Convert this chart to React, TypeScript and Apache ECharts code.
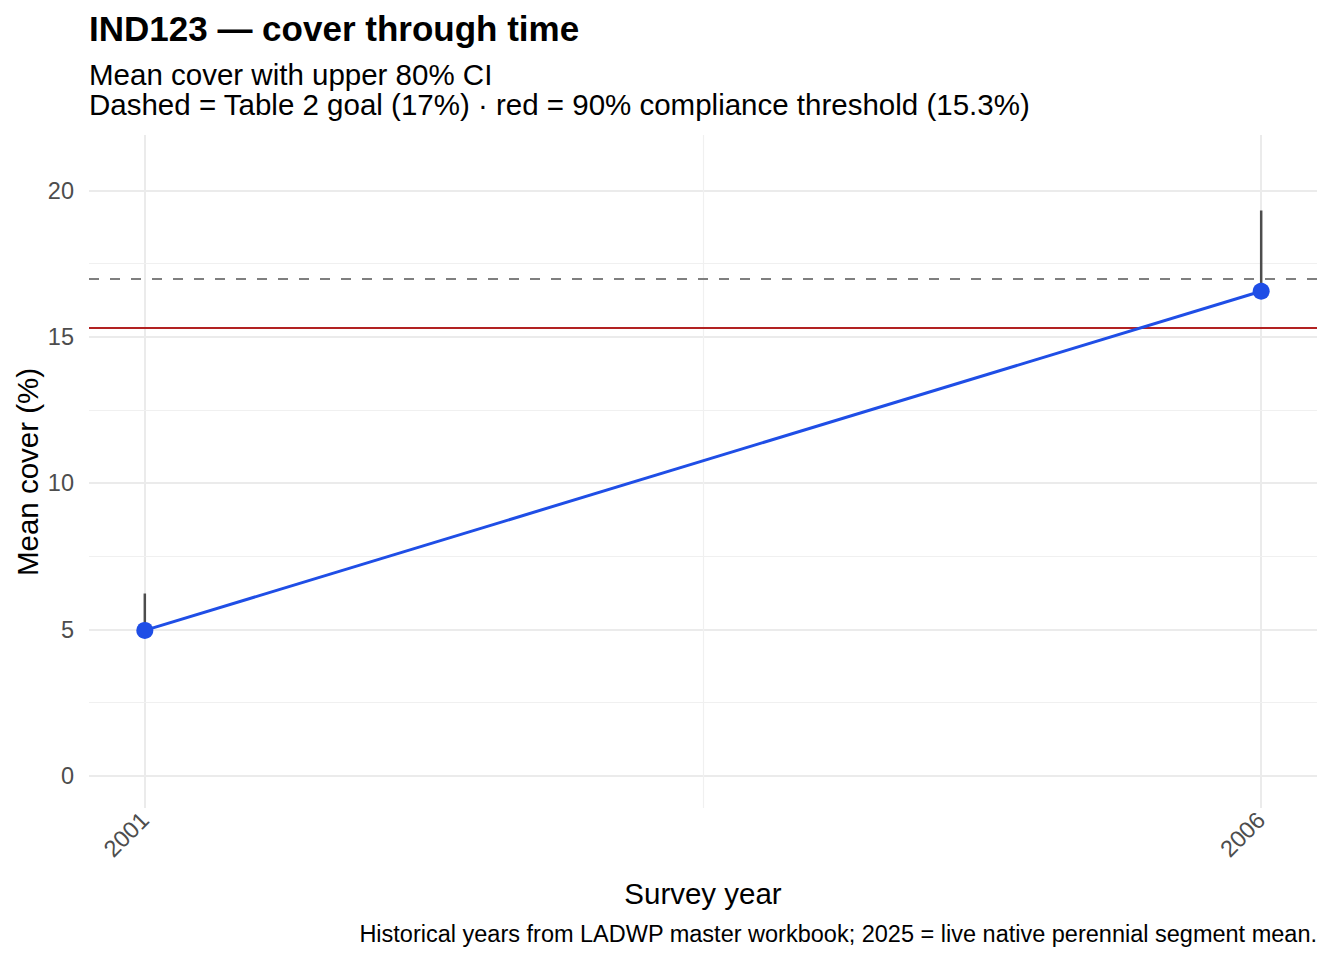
import React, { useEffect, useRef } from "react";
import * as echarts from "echarts";

const years = [2001, 2006];
const meanCover = [4.97, 16.56];
const upperCI = [6.23, 19.32];
const goalValue = 17;
const thresholdValue = 15.3;
const yTickValues = [0, 5, 10, 15, 20];
const yMinorValues = [2.5, 7.5, 12.5, 17.5];
const xTickValues = [2001, 2006];
const xMinorValues = [2003.5];

const FONT = "Liberation Sans, Arial, Helvetica, sans-serif";

export default function App() {
  const ref = useRef<HTMLDivElement>(null);
  useEffect(() => {
    document.body.style.margin = "0";
    if (!ref.current) return;
    const chart = echarts.init(ref.current, undefined, { renderer: "svg" });
    const pts = years.map((y, i) => [y, meanCover[i]]);
    const minorLine = { color: "#F0F0F0", width: 1.2, type: "solid" };
    const option: any = {
      animation: false,
      backgroundColor: "#FFFFFF",
      textStyle: { fontFamily: FONT },
      title: [
        {
          text: "IND123 — cover through time",
          left: 89,
          top: 10,
          padding: 0,
          textStyle: { fontSize: 35, fontWeight: "bold", color: "#000000", fontFamily: FONT, lineHeight: 36 },
        },
        {
          text: "Mean cover with upper 80% CI\nDashed = Table 2 goal (17%) · red = 90% compliance threshold (15.3%)",
          left: 89,
          top: 59,
          padding: 0,
          textStyle: { fontSize: 29.5, fontWeight: "normal", color: "#000000", lineHeight: 30.5, fontFamily: FONT },
        },
      ],
      grid: { left: 89, right: 27, top: 135, bottom: 152, containLabel: false },
      xAxis: {
        type: "value",
        min: 2000.75,
        max: 2006.25,
        axisLine: { show: false },
        axisTick: { show: false, customValues: xTickValues },
        axisLabel: {
          customValues: xTickValues,
          rotate: 45,
          margin: 8,
          fontSize: 23.5,
          color: "#4D4D4D",
          fontFamily: FONT,
          formatter: (v: number) => String(Math.round(v)),
        },
        splitLine: { show: true, lineStyle: { color: "#EBEBEB", width: 2 } },
      },
      yAxis: {
        type: "value",
        min: -1.1,
        max: 21.9,
        axisLine: { show: false },
        axisTick: { show: false, customValues: yTickValues },
        axisLabel: {
          customValues: yTickValues,
          margin: 15,
          fontSize: 23.5,
          color: "#4D4D4D",
          fontFamily: FONT,
          formatter: (v: number) => String(Math.round(v)),
        },
        splitLine: { show: true, lineStyle: { color: "#EBEBEB", width: 2 } },
      },
      series: [
        {
          type: "line",
          z: 0,
          data: pts,
          showSymbol: false,
          lineStyle: { opacity: 0 },
          silent: true,
          markLine: {
            z: 0,
            silent: true,
            symbol: ["none", "none"],
            label: { show: false },
            lineStyle: minorLine,
            data: [
              ...yMinorValues.map((v) => ({ yAxis: v, lineStyle: minorLine })),
              ...xMinorValues.map((v) => ({ xAxis: v, lineStyle: minorLine })),
            ],
          },
        },
        {
          type: "line",
          z: 1,
          data: pts,
          showSymbol: false,
          lineStyle: { opacity: 0 },
          silent: true,
          markLine: {
            z: 1,
            silent: true,
            symbol: ["none", "none"],
            label: { show: false },
            data: [
              { yAxis: thresholdValue, lineStyle: { color: "#B22222", width: 2, type: "solid" } },
              { yAxis: goalValue, lineStyle: { color: "#7F7F7F", width: 2.2, type: [10, 11] } },
            ],
          },
        },
        {
          type: "custom",
          z: 2,
          silent: true,
          data: years.map((y, i) => [y, meanCover[i], upperCI[i]]),
          encode: { x: 0, y: [1, 2] },
          renderItem: (params: any, api: any) => {
            const p0 = api.coord([api.value(0), api.value(1)]);
            const p1 = api.coord([api.value(0), api.value(2)]);
            return {
              type: "line",
              shape: { x1: p0[0], y1: p0[1], x2: p1[0], y2: p1[1] },
              style: { stroke: "#4D4D4D", lineWidth: 2.5 },
            };
          },
        },
        {
          type: "line",
          z: 3,
          data: pts,
          symbol: "circle",
          symbolSize: 17,
          itemStyle: { color: "#1F4EE6" },
          lineStyle: { color: "#1F4EE6", width: 3 },
        },
      ],
      graphic: [
        {
          type: "text",
          x: 703,
          y: 893,
          style: {
            text: "Survey year",
            fontSize: 29.5,
            fill: "#000000",
            fontFamily: FONT,
            textAlign: "center",
            textVerticalAlign: "middle",
          },
        },
        {
          type: "text",
          x: 27,
          y: 472,
          rotation: Math.PI / 2,
          style: {
            text: "Mean cover (%)",
            fontSize: 29.5,
            fill: "#000000",
            fontFamily: FONT,
            textAlign: "center",
            textVerticalAlign: "middle",
          },
        },
        {
          type: "text",
          x: 1317,
          y: 934,
          style: {
            text: "Historical years from LADWP master workbook; 2025 = live native perennial segment mean.",
            fontSize: 23.5,
            fill: "#000000",
            fontFamily: FONT,
            textAlign: "right",
            textVerticalAlign: "middle",
          },
        },
      ],
    };
    chart.setOption(option);
    return () => chart.dispose();
  }, []);
  return <div ref={ref} style={{ width: 1344, height: 960 }} />;
}
